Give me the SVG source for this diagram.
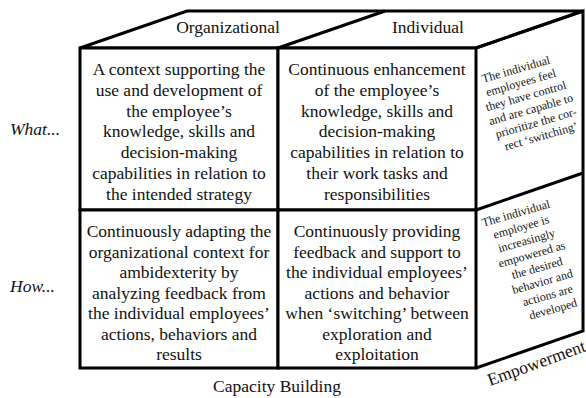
<svg xmlns="http://www.w3.org/2000/svg" width="586" height="398" viewBox="0 0 586 398" font-family="'Liberation Serif', 'DejaVu Serif', serif">
<style>
  .edge { fill: none; stroke: #000; stroke-width: 3; stroke-linejoin: miter; }
  .cell { fill: #fff; stroke: #000; stroke-width: 3; }
  text { font-family: 'Liberation Serif', 'DejaVu Serif', serif; fill: #111; }
  .body { font-size: 17.5px; text-anchor: middle; }
  .head { font-size: 17.5px; text-anchor: middle; }
  .row { font-size: 17.5px; font-style: italic; }
  .axis { font-size: 17.5px; }
  .side { font-size: 12px; text-anchor: middle; }
</style>
<rect width="586" height="398" fill="#fff"/>
<g id="cube-frame">
  <path class="edge" d="M80,48 L187,11 L583,11 L476,48 Z"/>
  <path class="edge" d="M278,48 L385,11"/>
  <path class="edge" d="M476,48 L583,11 L583,331 L476,368"/>
  <path class="edge" d="M476,210 L583,173"/>
</g>
<g id="header-organizational"><text class="head" x="228" y="33">Organizational</text></g>
<g id="header-individual"><text class="head" x="428" y="33">Individual</text></g>
<g id="row-what"><text class="row" x="10" y="135">What...</text></g>
<g id="row-how"><text class="row" x="10" y="292">How...</text></g>
<g id="cell-org-what">
  <rect class="cell" x="80" y="48" width="198" height="162"/>
  <text class="body" x="179" y="75">A context supporting the</text>
  <text class="body" x="179" y="95.8">use and development of</text>
  <text class="body" x="179" y="116.6">the employee’s</text>
  <text class="body" x="179" y="137.4">knowledge, skills and</text>
  <text class="body" x="179" y="158.2">decision-making</text>
  <text class="body" x="179" y="179">capabilities in relation to</text>
  <text class="body" x="179" y="199.8">the intended strategy</text>
</g>
<g id="cell-ind-what">
  <rect class="cell" x="278" y="48" width="198" height="162"/>
  <text class="body" x="377" y="75">Continuous enhancement</text>
  <text class="body" x="377" y="95.8">of the employee’s</text>
  <text class="body" x="377" y="116.6">knowledge, skills and</text>
  <text class="body" x="377" y="137.4">decision-making</text>
  <text class="body" x="377" y="158.2">capabilities in relation to</text>
  <text class="body" x="377" y="179">their work tasks and</text>
  <text class="body" x="377" y="199.8">responsibilities</text>
</g>
<g id="cell-org-how">
  <rect class="cell" x="80" y="210" width="198" height="158"/>
  <text class="body" x="179" y="237">Continuously adapting the</text>
  <text class="body" x="179" y="257.5">organizational context for</text>
  <text class="body" x="179" y="278">ambidexterity by</text>
  <text class="body" x="179" y="298.5">analyzing feedback from</text>
  <text class="body" x="179" y="319">the individual employees’</text>
  <text class="body" x="179" y="339.5">actions, behaviors and</text>
  <text class="body" x="179" y="360">results</text>
</g>
<g id="cell-ind-how">
  <rect class="cell" x="278" y="210" width="198" height="158"/>
  <text class="body" x="377" y="237">Continuously providing</text>
  <text class="body" x="377" y="257.5">feedback and support to</text>
  <text class="body" x="377" y="278">the individual employees’</text>
  <text class="body" x="377" y="298.5">actions and behavior</text>
  <text class="body" x="377" y="319">when ‘switching’ between</text>
  <text class="body" x="377" y="339.5">exploration and</text>
  <text class="body" x="377" y="360">exploitation</text>
</g>
<g id="side-what">
  <text class="side" transform="translate(517,73) rotate(-16)">The individual</text>
  <text class="side" transform="translate(522,86.4) rotate(-16)">employees feel</text>
  <text class="side" transform="translate(527,99.8) rotate(-16)">they have control</text>
  <text class="side" transform="translate(532,113.2) rotate(-16)">and are capable to</text>
  <text class="side" transform="translate(537,126.6) rotate(-16)">prioritize the cor-</text>
  <text class="side" transform="translate(542,140) rotate(-16)">rect ‘switching’</text>
</g>
<g id="side-how">
  <text class="side" transform="translate(517,217) rotate(-16)">The individual</text>
  <text class="side" transform="translate(522.3,230.7) rotate(-16)">employee is</text>
  <text class="side" transform="translate(527.6,244.4) rotate(-16)">increasingly</text>
  <text class="side" transform="translate(532.9,258.1) rotate(-16)">empowered as</text>
  <text class="side" transform="translate(538.2,271.8) rotate(-16)">the desired</text>
  <text class="side" transform="translate(543.5,285.5) rotate(-16)">behavior and</text>
  <text class="side" transform="translate(548.8,299.2) rotate(-16)">actions are</text>
  <text class="side" transform="translate(554.1,312.9) rotate(-16)">developed</text>
</g>
<g id="axis-capacity"><text class="head" x="277" y="392">Capacity Building</text></g>
<g id="axis-empowerment"><text class="axis" transform="translate(490,386) rotate(-20)">Empowerment</text></g>
</svg>
